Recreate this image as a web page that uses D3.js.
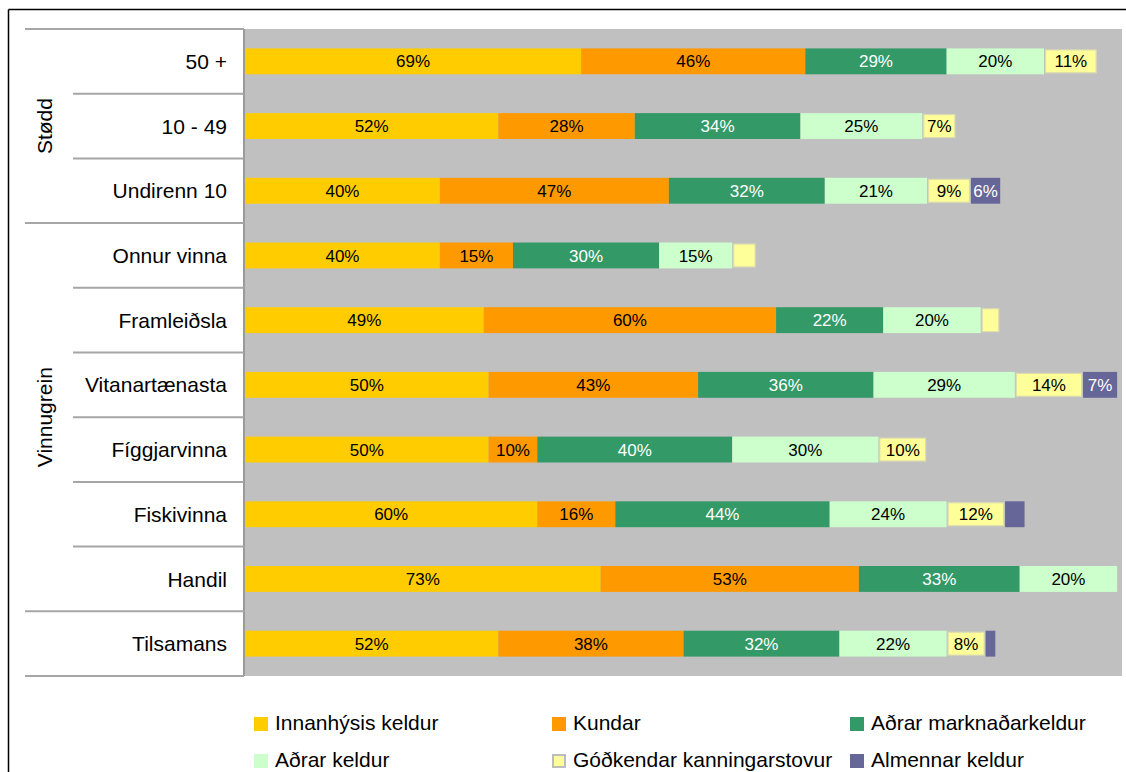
<!DOCTYPE html>
<html>
<head>
<meta charset="utf-8">
<script src="https://cdn.jsdelivr.net/npm/d3@7"></script>
<style>
  html, body { margin: 0; padding: 0; background: #fff; }
  svg { display: block; font-family: "Liberation Sans", Arial, sans-serif; }
</style>
</head>
<body>
<svg id="chart" width="1126" height="772"></svg>
<script>
// Categories, top to bottom
const categories = ["50 +", "10 - 49", "Undirenn 10", "Onnur vinna", "Framleiðsla",
  "Vitanartænasta", "Fíggjarvinna", "Fiskivinna", "Handil", "Tilsamans"];

// Category groups (first and last category index)
const groupNames = ["Stødd", "Vinnugrein"];
const groupFrom = [0, 3];
const groupTo = [2, 8];

// Series names (legend order)
const seriesNames = ["Innanhýsis keldur", "Kundar", "Aðrar marknaðarkeldur",
  "Aðrar keldur", "Góðkendar kanningarstovur", "Almennar keldur"];

// Series values, percent, in category order
const innanhysisKeldur = [69, 52, 40, 40, 49, 50, 50, 60, 73, 52];
const kundar = [46, 28, 47, 15, 60, 43, 10, 16, 53, 38];
const adrarMarknadarkeldur = [29, 34, 32, 30, 22, 36, 40, 44, 33, 32];
const adrarKeldur = [20, 25, 21, 15, 20, 29, 30, 24, 20, 22];
const godkendarKanningarstovur = [11, 7, 9, 5, 4, 14, 10, 12, 0, 8];
const almennarKeldur = [0, 0, 6, 0, 0, 7, 0, 4, 0, 2];

// Segments drawn without a value label ("category|series")
const unlabelled = ["Onnur vinna|Góðkendar kanningarstovur", "Framleiðsla|Góðkendar kanningarstovur",
  "Fiskivinna|Almennar keldur", "Tilsamans|Almennar keldur"];

const seriesValues = [innanhysisKeldur, kundar, adrarMarknadarkeldur,
  adrarKeldur, godkendarKanningarstovur, almennarKeldur];

const colors = ["#FFCC00", "#FF9900", "#339966", "#CCFFCC", "#FFFF99", "#666699"];
const labelColors = ["#000", "#000", "#fff", "#000", "#000", "#fff"];

const svg = d3.select("#chart");

const plot = { left: 245, right: 1122, top: 29, bottom: 676 };

const x = d3.scaleLinear().domain([0, 180]).range([plot.left, plot.right]);
const y = d3.scaleBand().domain(categories).range([plot.top, plot.bottom])
  .paddingInner(0.6).paddingOuter(0.3);
const step = y.step();

// Outer frame (top and left edges)
svg.append("line").attr("x1", 8.5).attr("x2", 1126).attr("y1", 9.5).attr("y2", 9.5)
  .attr("stroke", "#000").attr("stroke-width", 1.5);
svg.append("line").attr("x1", 8.5).attr("x2", 8.5).attr("y1", 9.5).attr("y2", 772)
  .attr("stroke", "#000").attr("stroke-width", 1.5);

// Plot background
svg.append("rect")
  .attr("x", plot.left).attr("y", plot.top)
  .attr("width", plot.right - plot.left).attr("height", plot.bottom - plot.top)
  .attr("fill", "#C0C0C0");

// Stacked data
const stackData = categories.map((c, i) => {
  const row = { category: c };
  seriesNames.forEach((s, k) => { row[s] = seriesValues[k][i]; });
  return row;
});
const stacked = d3.stack().keys(seriesNames)(stackData);

const layers = svg.append("g").selectAll("g")
  .data(stacked).join("g");

layers.each(function (layer, k) {
  const g = d3.select(this);
  const name = seriesNames[k];
  const segs = layer.filter(d => d[1] - d[0] > 0);
  const bordered = name === "Góðkendar kanningarstovur";
  g.selectAll("rect").data(segs).join("rect")
    .attr("x", d => x(d[0]) + (bordered ? 1.5 : 0))
    .attr("y", d => y(d.data.category) + (bordered ? 1.5 : 0))
    .attr("width", d => x(d[1]) - x(d[0]) - (bordered ? 3 : 0))
    .attr("height", y.bandwidth() - (bordered ? 3 : 0))
    .attr("fill", colors[k])
    .attr("stroke", bordered ? "#dcdcb0" : "none")
    .attr("stroke-width", bordered ? 1.2 : 0);

  g.selectAll("text")
    .data(segs.filter(d => !unlabelled.includes(d.data.category + "|" + name)))
    .join("text")
    .attr("x", d => (x(d[0]) + x(d[1])) / 2)
    .attr("y", d => y(d.data.category) + y.bandwidth() / 2)
    .attr("dy", "0.36em")
    .attr("text-anchor", "middle")
    .attr("font-size", 17)
    .attr("fill", labelColors[k])
    .text(d => (d[1] - d[0]) + "%");
});

// Category axis: separator lines
const axisColor = "#a6a6a6";
svg.append("line")
  .attr("x1", plot.left - 1).attr("x2", plot.left - 1)
  .attr("y1", plot.top).attr("y2", plot.bottom)
  .attr("stroke", "#9a9a9a").attr("stroke-width", 2);

const groupStarts = new Set(groupFrom);
d3.range(categories.length + 1).forEach(i => {
  const yy = plot.top + i * step;
  const full = i === 0 || i === categories.length || groupStarts.has(i) ||
    groupTo.includes(i - 1);
  svg.append("line")
    .attr("x1", full ? 25 : 73).attr("x2", plot.left - 1)
    .attr("y1", yy).attr("y2", yy)
    .attr("stroke", axisColor).attr("stroke-width", 2);
});

// Category labels
svg.append("g").selectAll("text").data(categories).join("text")
  .attr("x", 227)
  .attr("y", d => y(d) + y.bandwidth() / 2)
  .attr("dy", "0.36em")
  .attr("text-anchor", "end")
  .attr("font-size", 21)
  .attr("fill", "#000")
  .text(d => d);

// Group labels (rotated)
groupNames.forEach((name, i) => {
  const y0 = plot.top + groupFrom[i] * step;
  const y1 = plot.top + (groupTo[i] + 1) * step;
  svg.append("text")
    .attr("transform", `translate(44,${(y0 + y1) / 2}) rotate(-90)`)
    .attr("dy", "0.36em")
    .attr("text-anchor", "middle")
    .attr("font-size", 21)
    .attr("fill", "#000")
    .text(name);
});

// Legend: 3 columns, 2 rows (text baselines)
const legendX = [254, 552, 850];
const legendBaseline = [730, 767];
const legend = svg.append("g");
seriesNames.forEach((name, k) => {
  const col = k % 3, row = Math.floor(k / 3);
  const lx = legendX[col], ly = legendBaseline[row];
  const bordered = name === "Góðkendar kanningarstovur";
  legend.append("rect")
    .attr("x", lx + (bordered ? 1 : 0)).attr("y", ly - 13 + (bordered ? 1 : 0))
    .attr("width", bordered ? 12 : 14).attr("height", bordered ? 12 : 14)
    .attr("fill", colors[k])
    .attr("stroke", bordered ? "#bdbdbd" : "none")
    .attr("stroke-width", bordered ? 2 : 0);
  legend.append("text")
    .attr("x", lx + 21).attr("y", ly)
    .attr("font-size", 21)
    .attr("fill", "#000")
    .text(name);
});
</script>
</body>
</html>
